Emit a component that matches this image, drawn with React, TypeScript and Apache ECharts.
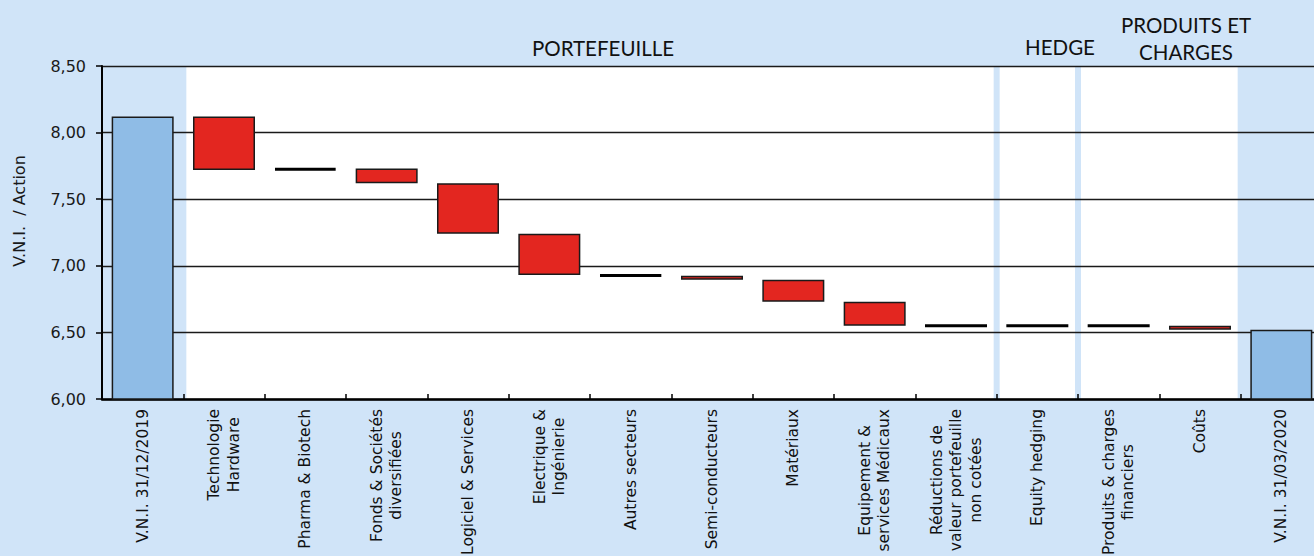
import React, { useEffect, useRef } from 'react';
import * as echarts from 'echarts';

// ---- data ----
const categories: string[] = [
  'V.N.I. 31/12/2019',
  'Technologie\nHardware',
  'Pharma & Biotech',
  'Fonds & Sociétés\ndiversifiées',
  'Logiciel & Services',
  'Electrique &\nIngénierie',
  'Autres secteurs',
  'Semi-conducteurs',
  'Matériaux',
  'Equipement &\nservices Médicaux',
  'Réductions de\nvaleur portefeuille\nnon cotées',
  'Equity hedging',
  'Produits & charges\nfinanciers',
  'Coûts',
  'V.N.I. 31/03/2020',
];
const openingNav = 8.12;
// NAV level after each intermediate step (categories 1..13)
const levelAfterStep: number[] = [7.72, 7.73, 7.62, 7.24, 6.93, 6.925, 6.895, 6.73, 6.55, 6.55, 6.55, 6.55, 6.52];
const closingNav = 6.52;

const yMin = 6;
const yMax = 8.5;
const yStep = 0.5;

const regionTitles: string[] = ['PORTEFEUILLE', 'HEDGE', 'PRODUITS ET\nCHARGES'];
const regionStart: number[] = [1, 11, 12];
const regionEnd: number[] = [10, 11, 13];

// ---- styles ----
const BG = '#D0E4F8';
const BLUE = '#8FBCE6';
const RED = '#E32620';
const INK = '#111111';

export default function App() {
  const ref = useRef<HTMLDivElement>(null);

  useEffect(() => {
    if (!ref.current) return;
    const chart = echarts.init(ref.current, undefined, { renderer: 'svg' });

    const before = [openingNav, ...levelAfterStep.slice(0, -1)];
    const baseData: number[] = [0];
    const deltaData: any[] = [{ value: openingNav, itemStyle: { color: BLUE } }];
    levelAfterStep.forEach((lv, i) => {
      const prev = before[i];
      const lo = Math.min(prev, lv);
      const diff = Math.round(Math.abs(lv - prev) * 1000) / 1000;
      baseData.push(lo);
      const flat = diff < 0.015;
      deltaData.push({
        value: diff,
        itemStyle: flat
          ? { color: '#000', borderColor: '#000', borderWidth: 3 }
          : { color: RED },
      });
    });
    baseData.push(0);
    deltaData.push({ value: closingNav, itemStyle: { color: BLUE } });

    const bandData = regionStart.map((s, i) => [s, regionEnd[i]]);

    const option: any = {
      animation: false,
      backgroundColor: BG,
      textStyle: { fontFamily: 'DejaVu Sans' },
      grid: {
        left: 102,
        right: 0,
        top: 66,
        bottom: 157,
        containLabel: false,
        outerBoundsMode: 'none',
      },
      xAxis: {
        type: 'category',
        data: categories,
        z: 2,
        axisLine: { show: true, lineStyle: { color: '#000', width: 2.5 } },
        axisTick: {
          show: true,
          inside: true,
          length: 5,
          interval: 0,
          alignWithLabel: false,
          lineStyle: { color: '#000', width: 1.5 },
        },
        axisLabel: {
          interval: 0,
          rotate: 90,
          margin: 10,
          hideOverlap: false,
          formatter: (v: string) =>
            v
              .split('\n')
              .map((l) => `{c|${l}}`)
              .join('\n'),
          rich: {
            c: {
              align: 'center',
              fontSize: 15.5,
              lineHeight: 19.5,
              fontFamily: 'DejaVu Sans',
              color: INK,
            },
          },
        },
        splitLine: { show: false },
      },
      yAxis: {
        type: 'value',
        min: yMin,
        max: yMax,
        interval: yStep,
        z: 2,
        axisLine: { show: true, lineStyle: { color: '#000', width: 2 } },
        axisTick: { show: true, length: 6, lineStyle: { color: '#000', width: 1.5 } },
        axisLabel: {
          margin: 16,
          fontSize: 16,
          fontFamily: 'DejaVu Sans',
          color: '#1a1a1a',
          formatter: (v: number) => v.toFixed(2).replace('.', ','),
        },
        splitLine: { show: true, lineStyle: { color: '#1a1a1a', width: 1.3 } },
      },
      series: [
        {
          type: 'custom',
          z: 1,
          silent: true,
          clip: false,
          encode: { x: [0, 1] },
          data: bandData,
          renderItem: (params: any, api: any) => {
            const s = api.value(0);
            const e = api.value(1);
            const w = api.size([1, 0])[0];
            const x0 = api.coord([s, yMin])[0] - w / 2 + 3;
            const x1 = api.coord([e, yMin])[0] + w / 2 - 3;
            const cs = params.coordSys;
            return {
              type: 'rect',
              shape: { x: x0, y: cs.y, width: x1 - x0, height: cs.height },
              style: { fill: '#ffffff' },
            };
          },
        },
        {
          type: 'bar',
          stack: 'w',
          z: 3,
          barWidth: 62,
          silent: true,
          itemStyle: { color: 'transparent', borderWidth: 0 },
          data: baseData,
        },
        {
          type: 'bar',
          stack: 'w',
          z: 3,
          barWidth: 62,
          itemStyle: { borderColor: '#1a1a1a', borderWidth: 1.5 },
          data: deltaData,
        },
      ],
      graphic: [
        {
          type: 'text',
          x: 19,
          y: 211,
          rotation: Math.PI / 2,
          style: {
            text: 'V.N.I.  / Action',
            font: '16px "DejaVu Sans"',
            fill: '#1a1a1a',
            align: 'center',
            verticalAlign: 'middle',
          },
        },
        {
          type: 'text',
          x: 603,
          y: 48,
          style: {
            text: regionTitles[0],
            font: '20.5px Lato',
            fill: INK,
            align: 'center',
            verticalAlign: 'middle',
          },
        },
        {
          type: 'text',
          x: 1060,
          y: 47,
          style: {
            text: regionTitles[1],
            font: '20.5px Lato',
            fill: INK,
            align: 'center',
            verticalAlign: 'middle',
          },
        },
        {
          type: 'text',
          x: 1186,
          y: 38,
          style: {
            text: regionTitles[2],
            font: '20.5px Lato',
            lineHeight: 27,
            fill: INK,
            align: 'center',
            verticalAlign: 'middle',
          },
        },
      ],
    };

    chart.setOption(option);
    return () => chart.dispose();
  }, []);

  return (
    <div
      ref={ref}
      style={{ position: 'fixed', left: 0, top: 0, width: 1322, height: 556 }}
    />
  );
}
